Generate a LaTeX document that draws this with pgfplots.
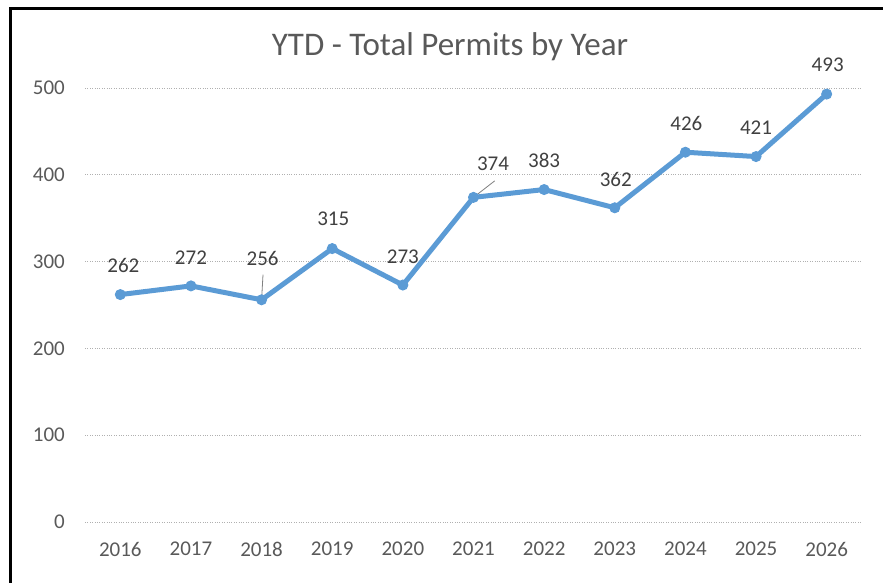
\documentclass[border=0pt]{standalone}
\usepackage{pgfplots}
\pgfplotsset{compat=1.18}
\usepackage{pgfplotstable}
\usepackage{fontspec}
\setmainfont{Carlito}
\definecolor{linec}{HTML}{5B9BD5}
\definecolor{txt}{HTML}{595959}
\definecolor{lbl}{HTML}{404040}
\definecolor{gridc}{HTML}{B0B0B0}
\pgfplotstableread{
x y dx dy
0 262 3 28.6
1 272 0 28
2 256 1 41
3 315 1 29.6
4 273 0 28
5 374 19.5 33.4
6 383 0 29.6
7 362 1 27.8
8 426 1 29
9 421 0 28.6
10 493 1 29
}\permits
\begin{document}
\begin{tikzpicture}[x=1pt,y=1pt]
\useasboundingbox (0,0) rectangle (883,583);
\draw[line width=3pt] (10,0) -- (10,574) -- (883,574);
\node[text=txt, font=\fontsize{33}{39}\selectfont, inner sep=0pt] at (450,536) {YTD - Total Permits by Year};
\begin{axis}[
  at={(85pt,61pt)}, anchor=south west,
  scale only axis, width=777pt, height=434pt,
  xmin=-0.5, xmax=10.5, ymin=0, ymax=500,
  xtick={0,...,10},
  xticklabels={2016,2017,2018,2019,2020,2021,2022,2023,2024,2025,2026},
  ytick={0,100,...,500},
  axis line style={draw=none},
  major tick length=0pt,
  ymajorgrids,
  grid style={dotted, gridc, line width=0.8pt},
  /pgf/number format/assume math mode=true,
  tick label style={font=\fontsize{21}{25}\selectfont, text=txt, inner sep=0pt},
  yticklabel style={anchor=east, xshift=-20pt},
  xticklabel style={anchor=north, yshift=-20pt},
  clip=false,
]
\draw[gray, line width=0.8pt] (axis cs:2,256) -- (axis cs:2.02,285);
\draw[gray, line width=0.8pt] (axis cs:5,374) -- (axis cs:5.3,393);
\addplot[linec, line width=5pt, mark=*, mark size=5pt,
  mark options={fill=linec, line width=1pt},
  nodes near coords,
  visualization depends on={\thisrow{dx} \as \dx},
  visualization depends on={\thisrow{dy} \as \dy},
  every node near coord/.append style={anchor=center, inner sep=0pt,
    xshift=\dx pt, yshift=\dy pt, text=lbl,
    font=\fontsize{21}{25}\selectfont},
] table[x=x, y=y] {\permits};
\end{axis}
\end{tikzpicture}
\end{document}
